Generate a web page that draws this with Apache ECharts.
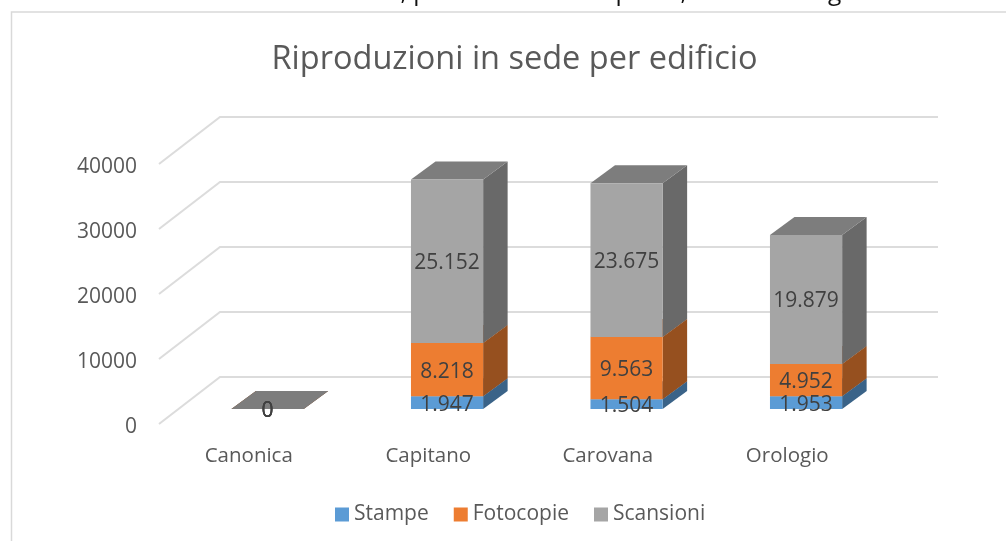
<!DOCTYPE html>
<html>
<head>
<meta charset="utf-8">
<style>html,body{margin:0;padding:0;background:#fff;overflow:hidden}#c{width:1006px;height:541px}</style>
<script src="https://cdn.jsdelivr.net/npm/echarts@6/dist/echarts.min.js"></script>
</head>
<body>
<div id="c"></div>
<script>
const categories = ['Canonica', 'Capitano', 'Carovana', 'Orologio'];
const stampe = [0, 1947, 1504, 1953];
const fotocopie = [0, 8218, 9563, 4952];
const scansioni = [0, 25152, 23675, 19879];
const yTicks = [0, 10000, 20000, 30000, 40000];
const seriesNames = ['Stampe', 'Fotocopie', 'Scansioni'];
const FONT = '"Open Sans", sans-serif';

const fmt = v => String(v).replace(/\B(?=(\d{3})+$)/g, '.');

function stacked(values, below) {
  return values.map((v, i) => [i, below[i], below[i] + v, v]);
}
const zeros = categories.map(() => 0);
const base1 = stampe.map(v => v);
const base2 = stampe.map((v, i) => v + fotocopie[i]);

function barRenderer(sideColor, topColor) {
  return function (params, api) {
    const cat = api.value(0);
    const a = api.coord([cat, api.value(1)]);
    const b = api.coord([cat, api.value(2)]);
    const band = api.size([1, 0])[0];
    const w = band * 0.402;
    const cx = a[0] + 18.8;
    const by = a[1] - 15, ty = b[1] - 15;
    const l = cx - w / 2, r = cx + w / 2;
    const dx = 24.5, dy = -18;
    const front = api.visual('color');
    return {
      type: 'group',
      children: [
        { type: 'polygon', shape: { points: [[r, by], [r + dx, by + dy], [r + dx, ty + dy], [r, ty]] }, style: { fill: sideColor } },
        { type: 'polygon', shape: { points: [[l, ty], [l + dx, ty + dy], [r + dx, ty + dy], [r, ty]] }, style: { fill: topColor } },
        { type: 'rect', shape: { x: l, y: ty, width: w, height: by - ty }, style: { fill: front } },
        { type: 'text', z2: 100, x: cx, y: (by + ty) / 2 + 2,
          style: { text: fmt(api.value(3)), fill: '#404040', font: '21px ' + FONT, align: 'center', verticalAlign: 'middle' } }
      ]
    };
  };
}

function gridRenderer(params, api) {
  const y = api.coord([0, api.value(0)])[1];
  const x0 = params.coordSys.x, x1 = x0 + params.coordSys.width;
  return {
    type: 'polyline',
    shape: { points: [[x0, y], [x0 + 61, y - 47], [x1 + 61, y - 47]] },
    style: { fill: 'none', stroke: '#DCDCDC', lineWidth: 2 }
  };
}

function barSeries(name, values, below, color, side, top) {
  return {
    type: 'custom', name, data: stacked(values, below), itemStyle: { color },
    renderItem: barRenderer(side, top), encode: { x: 0, y: [1, 2] }, z: 3
  };
}

const chart = echarts.init(document.getElementById('c'), null, { renderer: 'canvas' });
chart.setOption({
  animation: false,
  backgroundColor: '#fff',
  title: {
    text: 'Riproduzioni in sede per edificio', left: 509.5, top: 38, textAlign: 'center',
    textStyle: { fontFamily: FONT, fontSize: 32.5, fontWeight: 'normal', color: '#595959' }
  },
  legend: {
    data: seriesNames, left: 330, top: 499, icon: 'rect', itemWidth: 14, itemHeight: 14, itemGap: 25,
    textStyle: { fontFamily: FONT, fontSize: 21, color: '#595959' }
  },
  grid: { left: 159, top: 164, width: 718, height: 260 },
  xAxis: {
    type: 'category', data: categories,
    axisLine: { show: false }, axisTick: { show: false }, splitLine: { show: false },
    axisLabel: { fontFamily: FONT, fontSize: 20.5, color: '#595959', margin: 22 }
  },
  yAxis: {
    type: 'value', min: 0, max: 40000, interval: 10000,
    axisLine: { show: false }, axisTick: { show: false }, splitLine: { show: false },
    axisLabel: {
      margin: 22, formatter: v => '{a|' + v + '}',
      rich: { a: { fontFamily: FONT, fontSize: 21, color: '#595959', padding: [7, 0, 0, 0] } }
    }
  },
  graphic: [
    { type: 'rect', z: -1, shape: { x: 11.5, y: 12, width: 1100, height: 800 }, style: { fill: 'none', stroke: '#D9D9D9', lineWidth: 1.5 } },
    { type: 'text', z: -1, x: 908, y: 5, style: { text: 'alla sede, per lo scorso campione, è stata la seguente', fill: '#111', font: '24.6px ' + FONT, align: 'right', verticalAlign: 'bottom' } }
  ],
  series: [
    { type: 'custom', name: 'griglia', data: yTicks.map(v => [v]), renderItem: gridRenderer, encode: { y: 0 }, z: 1, silent: true },
    barSeries(seriesNames[0], stampe, zeros, '#5B9BD5', '#3A6388', '#466F95'),
    barSeries(seriesNames[1], fotocopie, base1, '#ED7D31', '#96501F', '#B35E25'),
    barSeries(seriesNames[2], scansioni, base2, '#A5A5A5', '#696969', '#7D7D7D')
  ]
});
</script>
</body>
</html>
